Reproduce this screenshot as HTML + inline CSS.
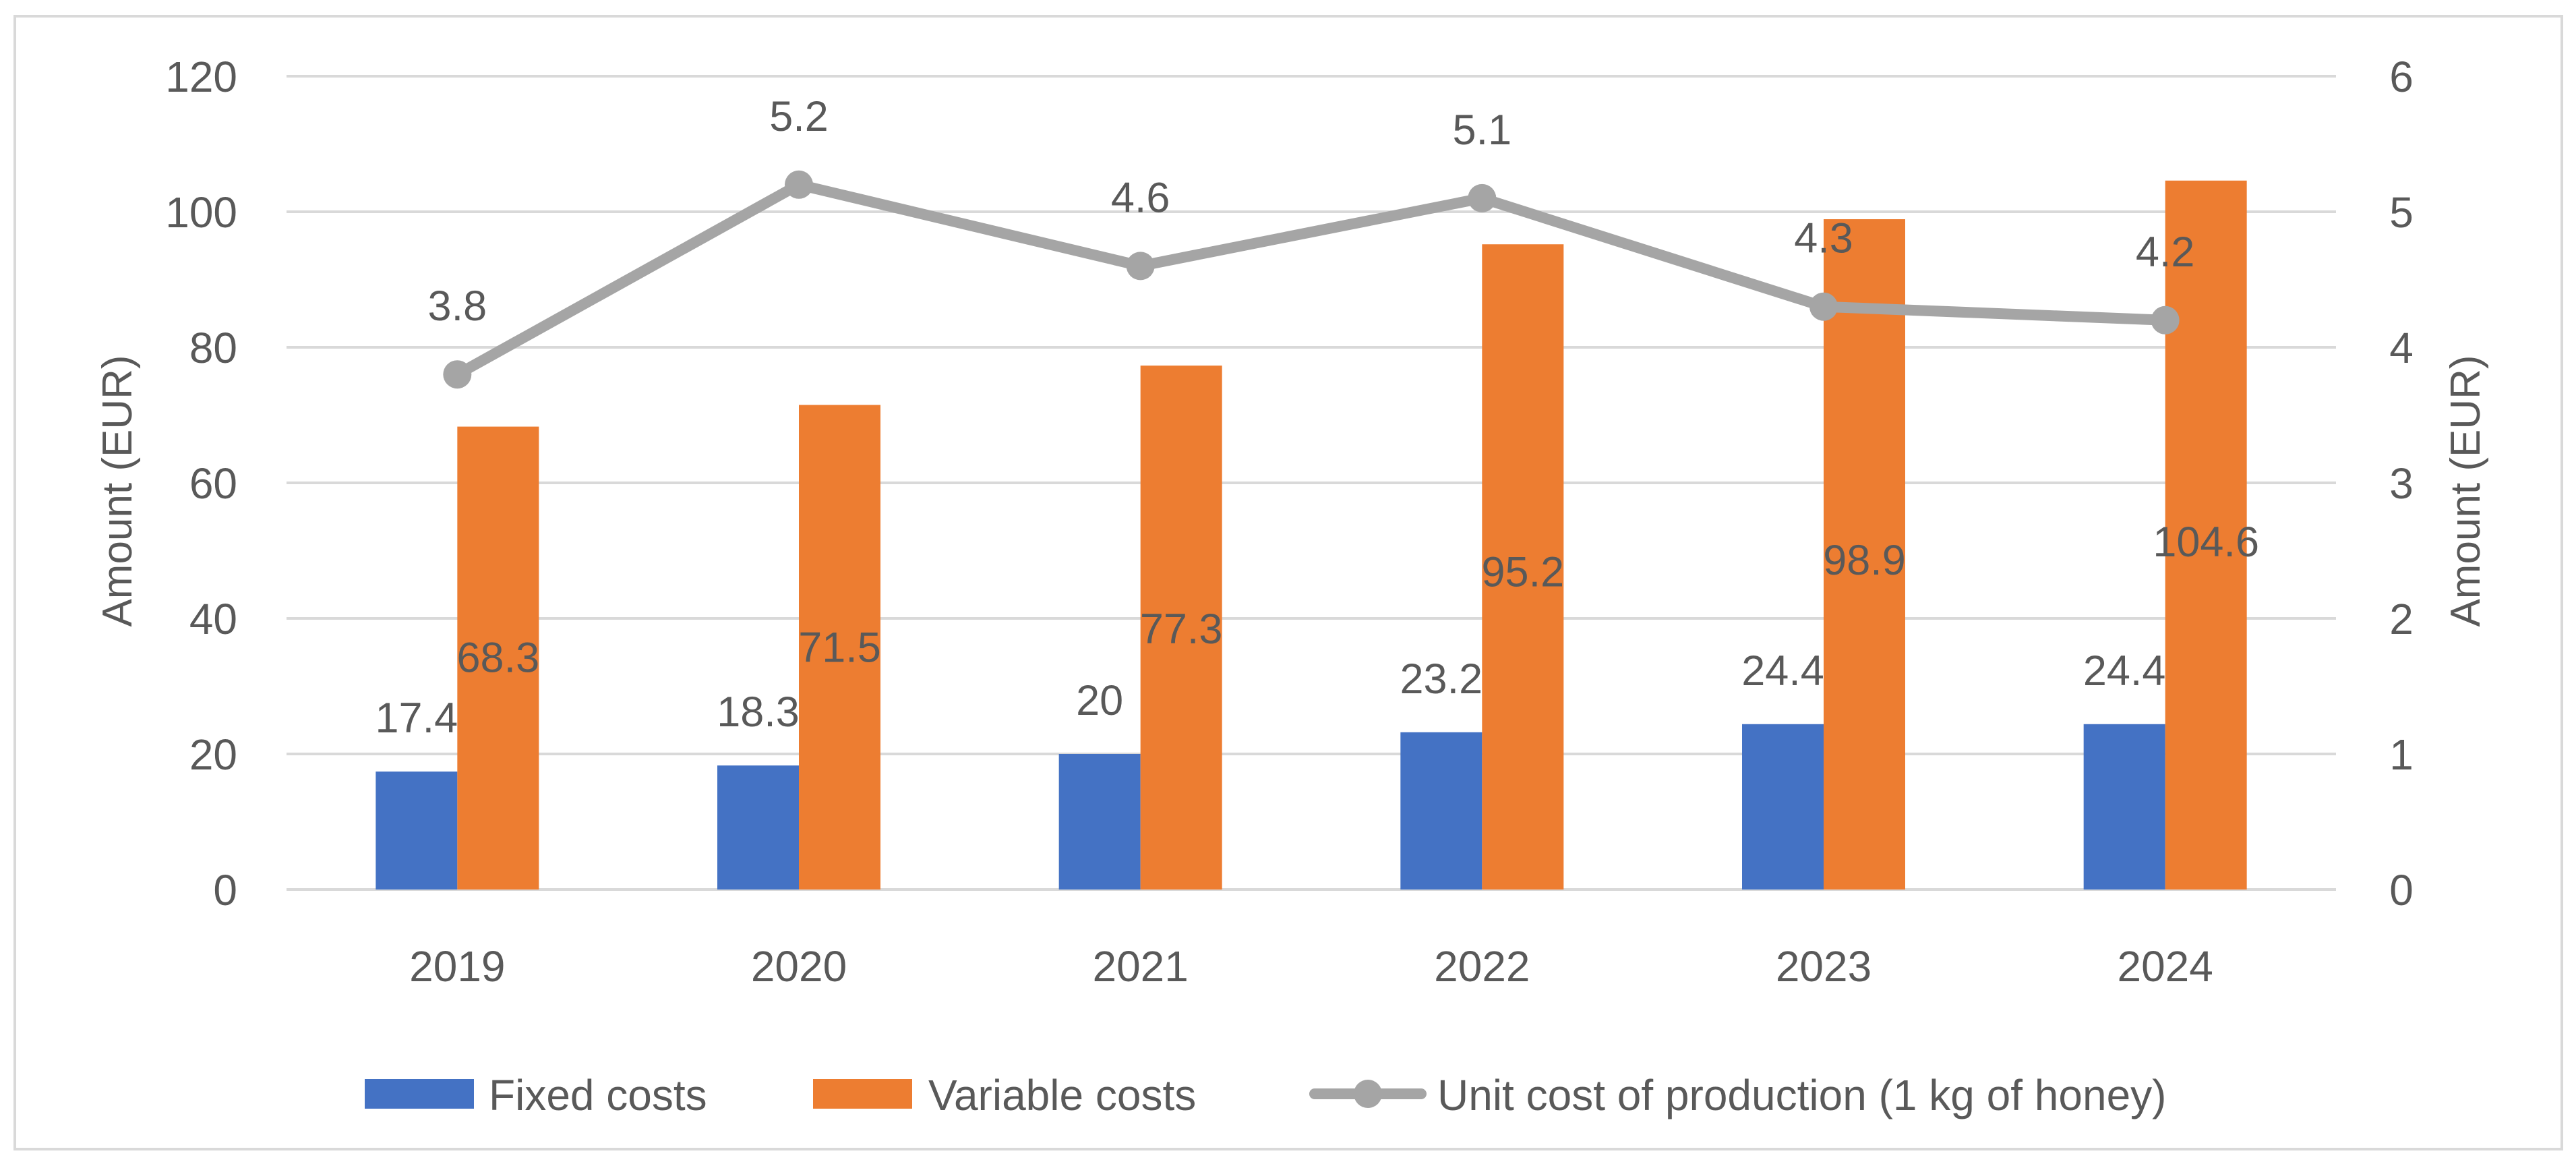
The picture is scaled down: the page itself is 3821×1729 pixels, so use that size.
<!DOCTYPE html>
<html><head><meta charset="utf-8"><style>
html,body{margin:0;padding:0;background:#fff}
svg{display:block}
text{font-family:"Liberation Sans",sans-serif;fill:#595959}
</style></head><body>
<svg id="chart" width="3821" height="1729" viewBox="0 0 3821 1729" xmlns="http://www.w3.org/2000/svg">
<rect x="22" y="24" width="3778" height="1680" fill="#fff" stroke="#d9d9d9" stroke-width="4"/>
<g id="grid"></g><g id="bars"></g><g id="line"></g><g id="labels"></g><g id="axes"></g>
<text transform="translate(195,728) rotate(-90)" text-anchor="middle" font-size="62">Amount (EUR)</text>
<text transform="translate(3678,728) rotate(-90)" text-anchor="middle" font-size="62">Amount (EUR)</text>
<g>
<rect x="541" y="1600" width="162" height="44" fill="#4472c4"/>
<text x="725" y="1646" font-size="64">Fixed costs</text>
<rect x="1206" y="1600" width="147" height="44" fill="#ed7d31"/>
<text x="1377" y="1646" font-size="64">Variable costs</text>
<line x1="1950" y1="1622" x2="2108" y2="1622" stroke="#a5a5a5" stroke-width="16" stroke-linecap="round"/>
<circle cx="2029" cy="1622" r="21" fill="#a5a5a5"/>
<text x="2132" y="1646" font-size="64">Unit cost of production (1 kg of honey)</text>
</g>
</svg>
<script>
const categories = ["2019","2020","2021","2022","2023","2024"];
const fixedCosts = [17.4, 18.3, 20, 23.2, 24.4, 24.4];
const variableCosts = [68.3, 71.5, 77.3, 95.2, 98.9, 104.6];
const unitCost = [3.8, 5.2, 4.6, 5.1, 4.3, 4.2];
const leftTicks = [0,20,40,60,80,100,120];
const rightTicks = [0,1,2,3,4,5,6];

const NS = "http://www.w3.org/2000/svg";
const X0 = 425, X1 = 3465, Y0 = 1319, Y1 = 113;
const band = (X1 - X0) / categories.length;
const barW = 121;
const yL = v => Y0 - (v / 120) * (Y0 - Y1);
const yR = v => Y0 - (v / 6) * (Y0 - Y1);
const xC = i => X0 + band * (i + 0.5);
function mk(tag, attrs, parent, txt){
  const e = document.createElementNS(NS, tag);
  for (const k in attrs) e.setAttribute(k, attrs[k]);
  if (txt !== undefined) e.textContent = txt;
  document.getElementById(parent).appendChild(e);
  return e;
}
leftTicks.forEach((t, i) => {
  const g = mk("line", {x1:X0, x2:X1, y1:yL(t), y2:yL(t), stroke:"#d9d9d9", "stroke-width":4}, "grid");
  
  
  const l = mk("text", {x:352, y:yL(t)+23, "text-anchor":"end", "font-size":64}, "axes", String(t));
  
  
});
rightTicks.forEach(t => {
  const l = mk("text", {x:3562, y:yR(t)+23, "text-anchor":"middle", "font-size":64}, "axes", String(t));
  
  
});
categories.forEach((c, i) => {
  const l = mk("text", {x:xC(i), y:1455, "text-anchor":"middle", "font-size":64}, "axes", c);
  
  
  const b1 = mk("rect", {x:xC(i)-barW, y:yL(fixedCosts[i]), width:barW, height:Y0-yL(fixedCosts[i]), fill:"#4472c4"}, "bars");
  
  
  const b2 = mk("rect", {x:xC(i), y:yL(variableCosts[i]), width:barW, height:Y0-yL(variableCosts[i]), fill:"#ed7d31"}, "bars");
  
  
  const t1 = mk("text", {x:xC(i)-barW/2, y:yL(fixedCosts[i])-58, "text-anchor":"middle", "font-size":63, fill:"#404040"}, "labels", String(fixedCosts[i]));
  
  
  const t2 = mk("text", {x:xC(i)+barW/2, y:yL(variableCosts[i]*0.47), "text-anchor":"middle", "font-size":63, fill:"#404040"}, "labels", String(variableCosts[i]));
  
  
  const t3 = mk("text", {x:xC(i), y:yR(unitCost[i])-80, "text-anchor":"middle", "font-size":63, fill:"#404040"}, "labels", String(unitCost[i]));
  
  
});
const pts = unitCost.map((v, i) => xC(i) + "," + yR(v)).join(" ");
const pl = mk("polyline", {points:pts, fill:"none", stroke:"#a5a5a5", "stroke-width":16, "stroke-linejoin":"round"}, "line");


unitCost.forEach((v, i) => {
  const c = mk("circle", {cx:xC(i), cy:yR(v), r:21, fill:"#a5a5a5"}, "line");
  
  
});
</script>
</body></html>
